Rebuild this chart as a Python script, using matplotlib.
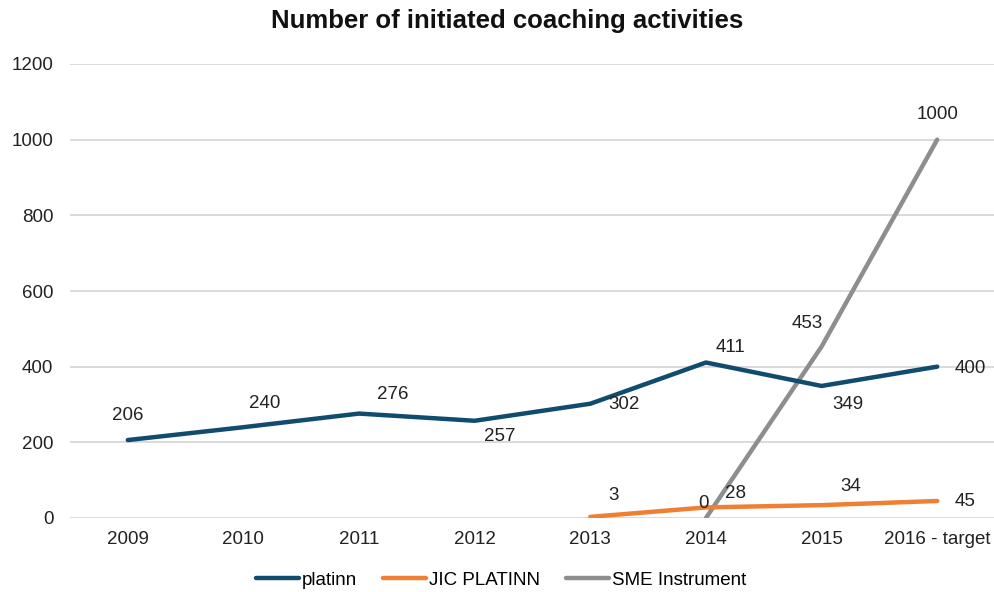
import matplotlib
matplotlib.use("Agg")
import matplotlib.pyplot as plt
import numpy as np

plt.rcParams['font.family'] = ['Liberation Sans', 'DejaVu Sans']

categories = ["2009", "2010", "2011", "2012", "2013", "2014", "2015", "2016 - target"]
platinn = [206, 240, 276, 257, 302, 411, 349, 400]
jic_platinn = [None, None, None, None, 3, 28, 34, 45]
sme_instrument = [None, None, None, None, None, 0, 453, 1000]

c_blue = "#0f4c6e"
c_orange = "#ef7f33"
c_gray = "#8e8e8e"

fig = plt.figure(figsize=(9.95, 5.92), dpi=100)
ax = fig.add_axes([70/995, 1-518/592, 925/995, 454/592])

x = np.arange(len(categories))

def to_arr(v):
    return np.array([np.nan if a is None else a for a in v], dtype=float)

lw = 3.2
ax.plot(x, to_arr(platinn), color=c_blue, lw=lw, label="platinn", solid_capstyle='round', zorder=3)
ax.plot(x, to_arr(jic_platinn), color=c_orange, lw=lw, label="JIC PLATINN", solid_capstyle='round', zorder=3)
ax.plot(x, to_arr(sme_instrument), color=c_gray, lw=lw, label="SME Instrument", solid_capstyle='round', zorder=2)

px = 0.72
fs = 13.5
# label offsets in pixels (dx, dy up positive)
off_platinn = [(0, 25), (21, 24), (34, 19), (25, -16), (34, -1), (25, 15), (26, -19), (33, -2)]
off_jic = [None, None, None, None, (23, 21), (30, 14), (29, 19), (28, -1)]
off_sme = [None, None, None, None, None, (-2, 14), (-14, 23), (0, 25)]

def annotate(series, offs):
    for i, (v, o) in enumerate(zip(series, offs)):
        if v is None or o is None:
            continue
        ax.annotate(str(v), (x[i], v), xytext=(o[0]*px, o[1]*px), textcoords="offset points",
                    ha="center", va="center", fontsize=fs, color="#222222", zorder=5)

annotate(platinn, off_platinn)
annotate(jic_platinn, off_jic)
annotate(sme_instrument, off_sme)

ax.set_xlim(-0.5, len(categories) - 0.5)
ax.set_ylim(0, 1200)
ax.set_yticks(np.arange(0, 1201, 200))
ax.set_xticks(x)
ax.set_xticklabels(categories)
ax.tick_params(axis="both", length=0, labelsize=fs, colors="#222222")
ax.tick_params(axis="y", pad=12)
ax.tick_params(axis="x", pad=9)
ax.grid(axis="y", color="#d4d4d4", lw=1.2)
ax.set_axisbelow(True)
for s in ax.spines.values():
    s.set_visible(False)

fig.text(507/995, 1-21/592, "Number of initiated coaching activities", ha="center", va="center",
         fontsize=18.5, fontweight="bold", color="#111111")

leg = fig.legend(loc="center", bbox_to_anchor=(501/995, 1-580/592), ncol=3, frameon=False,
                 fontsize=fs, handlelength=2.3, handletextpad=0.15, columnspacing=1.4)

fig.savefig("out.png", dpi=100)
